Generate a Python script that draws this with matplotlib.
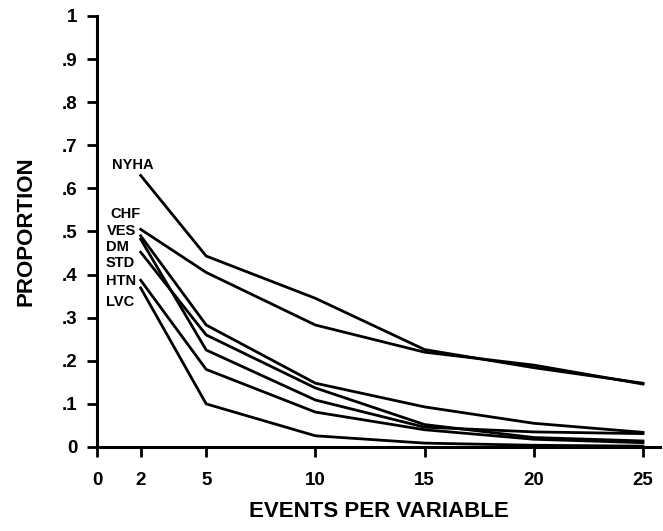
import matplotlib
matplotlib.use('Agg')
import matplotlib.pyplot as plt

plt.rcParams['font.family'] = ['Liberation Sans', 'DejaVu Sans']
plt.rcParams['font.weight'] = 'bold'

# events per variable
epv = [2, 5, 10, 15, 20, 25]

nyha = [0.630, 0.443, 0.345, 0.226, 0.184, 0.148]
chf = [0.505, 0.405, 0.283, 0.220, 0.190, 0.146]
ves = [0.490, 0.283, 0.148, 0.093, 0.055, 0.034]
dm = [0.482, 0.225, 0.109, 0.046, 0.035, 0.031]
std = [0.452, 0.260, 0.137, 0.052, 0.022, 0.014]
htn = [0.387, 0.180, 0.081, 0.040, 0.018, 0.010]
lvc = [0.369, 0.100, 0.026, 0.009, 0.004, 0.002]

series = [nyha, chf, ves, dm, std, htn, lvc]
names = ['NYHA', 'CHF', 'VES', 'DM', 'STD', 'HTN', 'LVC']
# where each name sits, left of the x=2 start points
name_x = [0.67, 0.60, 0.44, 0.41, 0.41, 0.41, 0.41]
name_y = [0.654, 0.540, 0.500, 0.464, 0.427, 0.384, 0.337]

xticks = [0, 2, 5, 10, 15, 20, 25]
yticks = [0, 0.1, 0.2, 0.3, 0.4, 0.5, 0.6, 0.7, 0.8, 0.9, 1.0]
yticklabels = ['0', '.1', '.2', '.3', '.4', '.5', '.6', '.7', '.8', '.9', '1']

fig = plt.figure(figsize=(6.63, 5.31), dpi=100)
ax = fig.add_axes([0.1463, 0.1582, 0.8492, 0.8117])

for s in series:
    ax.plot(epv, s, color='black', linewidth=2.0, solid_joinstyle='round',
            clip_on=False)

for n, tx, ty in zip(names, name_x, name_y):
    ax.text(tx, ty, n, fontsize=10.5, fontweight='bold', ha='left', va='center')

ax.set_xlim(0, 25.78)
ax.set_ylim(0, 1)
ax.set_xticks(xticks)
ax.set_xticklabels([str(t) for t in xticks])
ax.set_yticks(yticks)
ax.set_yticklabels(yticklabels)

for side in ['top', 'right']:
    ax.spines[side].set_visible(False)
for side in ['left', 'bottom']:
    ax.spines[side].set_linewidth(2.2)

ax.tick_params(axis='both', direction='out', length=7, width=2.0,
               labelsize=13.5)
ax.tick_params(axis='x', pad=11)
ax.tick_params(axis='y', pad=7)
for lab in ax.get_xticklabels() + ax.get_yticklabels():
    lab.set_fontweight('bold')

ax.set_xlabel('EVENTS PER VARIABLE', fontsize=16, fontweight='bold',
              labelpad=9)
ax.set_ylabel('PROPORTION', fontsize=16, fontweight='bold', labelpad=18)

fig.savefig('out.png', dpi=100)
